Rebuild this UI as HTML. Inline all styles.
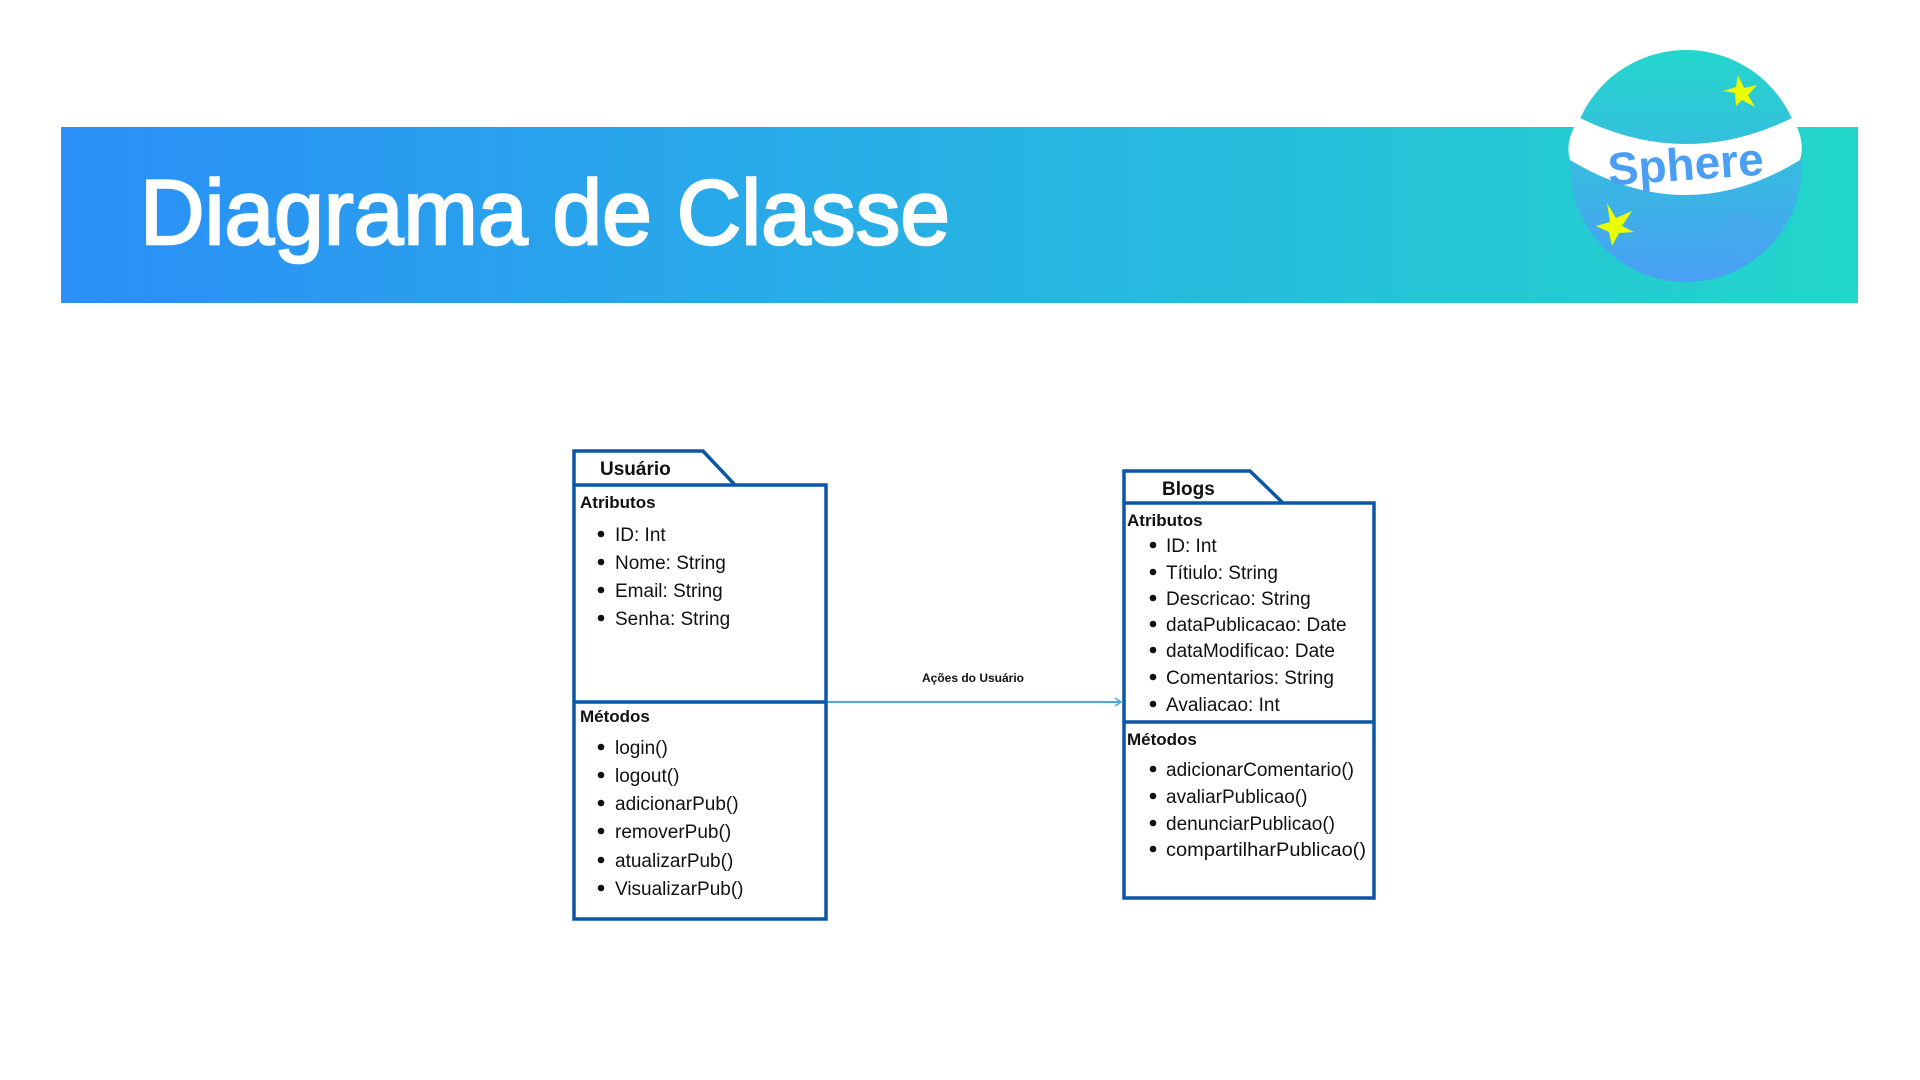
<!DOCTYPE html>
<html><head><meta charset="utf-8"><style>
html,body{margin:0;padding:0;background:#fff;}
svg{display:block;}
text{font-family:"Liberation Sans",sans-serif;}
</style></head><body>
<svg width="1920" height="1080" viewBox="0 0 1920 1080" xmlns="http://www.w3.org/2000/svg">
<defs>
<linearGradient id="bg" x1="0" y1="0" x2="1" y2="0">
<stop offset="0" stop-color="#2b8ff7"/><stop offset="0.6" stop-color="#27b9e0"/><stop offset="1" stop-color="#22d6c9"/>
</linearGradient>
<linearGradient id="ball" x1="0" y1="0" x2="0" y2="1">
<stop offset="0" stop-color="#24d6cc"/><stop offset="1" stop-color="#4a9ff5"/>
</linearGradient>
</defs>
<rect x="61" y="127" width="1797" height="176" fill="url(#bg)"/>
<text x="140" y="244" font-size="92" fill="#fff" stroke="#fff" stroke-width="2.5" textLength="810" lengthAdjust="spacingAndGlyphs">Diagrama de Classe</text>
<!-- logo -->
<circle cx="1686" cy="166" r="116" fill="url(#ball)"/>
<path d="M1580,118 Q1686,170 1792,118 Q1806,140 1800,160 Q1686,230 1570,160 Q1564,140 1580,118 Z" fill="#fff"/>
<text x="1686" y="180" font-size="46" font-weight="bold" fill="#4a9ff5" text-anchor="middle" transform="rotate(-4 1686 170)">Sphere</text>
<polygon points="1738,75 1744,88 1757,85 1748,95 1755,107 1742,100 1736,106 1735,93 1723,91 1736,87" fill="#eaff00"/>
<polygon points="1607,203 1616,218 1632,211 1622,226 1634,232 1619,233 1612,246 1609,232 1596,226 1610,222" fill="#eaff00"/>
<circle cx="1741" cy="233" r="20" fill="#48a6ec" opacity="0.7"/>
<g fill="none" stroke="#0b56a8" stroke-width="3.5">
<path d="M574,485 V451 H703 L735,485"/>
<rect x="574" y="485" width="252" height="434"/>
<line x1="574" y1="702" x2="826" y2="702"/>
<path d="M1124,503 V471 H1250 L1283,503"/>
<rect x="1124" y="503" width="250" height="395"/>
<line x1="1124" y1="722" x2="1374" y2="722"/>
</g>
<line x1="828" y1="702" x2="1121" y2="702" stroke="#4aa8e0" stroke-width="2"/>
<path d="M1115,698 L1121,702 L1115,706" fill="none" stroke="#4aa8e0" stroke-width="1.5"/>
<text x="973" y="682" font-size="12" font-weight="bold" text-anchor="middle" fill="#111">Ações do Usuário</text>
<g font-size="19" font-weight="bold" fill="#111">
<text x="600" y="475">Usuário</text>
<text x="580" y="508" font-size="17">Atributos</text>
<text x="580" y="722" font-size="17">Métodos</text>
<text x="1162" y="495">Blogs</text>
<text x="1127" y="526" font-size="17">Atributos</text>
<text x="1127" y="745" font-size="17">Métodos</text>
</g>
<g fill="#111">
<circle cx="601" cy="534" r="3.3"/><circle cx="601" cy="562" r="3.3"/><circle cx="601" cy="590" r="3.3"/><circle cx="601" cy="618" r="3.3"/>
<circle cx="601" cy="747" r="3.3"/><circle cx="601" cy="775" r="3.3"/><circle cx="601" cy="803" r="3.3"/><circle cx="601" cy="831" r="3.3"/><circle cx="601" cy="860" r="3.3"/><circle cx="601" cy="888" r="3.3"/>
<circle cx="1153" cy="545" r="3.3"/><circle cx="1153" cy="572" r="3.3"/><circle cx="1153" cy="598" r="3.3"/><circle cx="1153" cy="624" r="3.3"/><circle cx="1153" cy="650" r="3.3"/><circle cx="1153" cy="677" r="3.3"/><circle cx="1153" cy="704" r="3.3"/>
<circle cx="1153" cy="769" r="3.3"/><circle cx="1153" cy="796" r="3.3"/><circle cx="1153" cy="823" r="3.3"/><circle cx="1153" cy="849" r="3.3"/>
</g>
<g font-size="19" fill="#111">
<text x="615" y="541">ID: Int</text>
<text x="615" y="569">Nome: String</text>
<text x="615" y="597">Email: String</text>
<text x="615" y="625">Senha: String</text>
<text x="615" y="754">login()</text>
<text x="615" y="782">logout()</text>
<text x="615" y="810">adicionarPub()</text>
<text x="615" y="838">removerPub()</text>
<text x="615" y="867">atualizarPub()</text>
<text x="615" y="895">VisualizarPub()</text>
<text x="1166" y="552">ID: Int</text>
<text x="1166" y="579">Títiulo: String</text>
<text x="1166" y="605">Descricao: String</text>
<text x="1166" y="631">dataPublicacao: Date</text>
<text x="1166" y="657">dataModificao: Date</text>
<text x="1166" y="684">Comentarios: String</text>
<text x="1166" y="711">Avaliacao: Int</text>
<text x="1166" y="776">adicionarComentario()</text>
<text x="1166" y="803">avaliarPublicao()</text>
<text x="1166" y="830">denunciarPublicao()</text>
<text x="1166" y="856" textLength="200" lengthAdjust="spacingAndGlyphs">compartilharPublicao()</text>
</g>
</svg>
</body></html>
